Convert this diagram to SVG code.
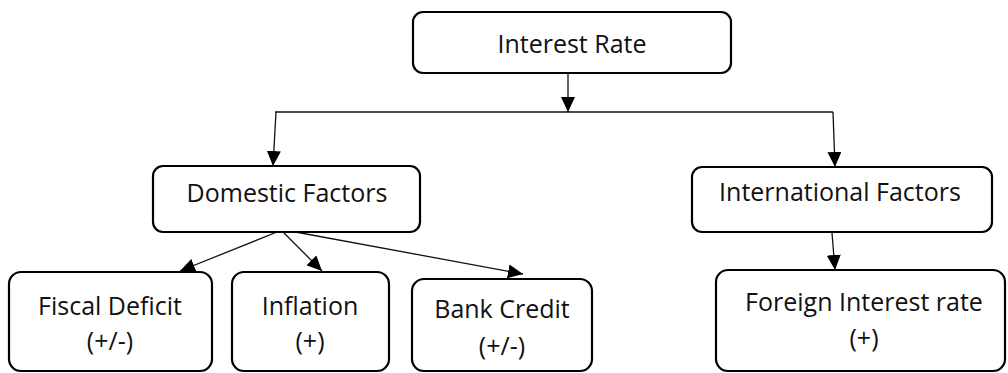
<svg xmlns="http://www.w3.org/2000/svg" width="1008" height="373" viewBox="0 0 1008 373">
<defs>
<style>
.box{fill:#fff;stroke:#000;stroke-width:2.2}
.t{font-family:"Open Sans","Liberation Sans",sans-serif;font-size:25px;fill:#111;text-anchor:middle}
.c{fill:none;stroke:#111;stroke-width:1.3}
</style>
<marker id="ah" markerUnits="userSpaceOnUse" markerWidth="15" markerHeight="14" refX="15" refY="7" orient="auto">
<path d="M0,0 L15,7 L0,14 z" fill="#000"/>
</marker>
</defs>
<rect width="1008" height="373" fill="#fff"/>
<g id="connectors">
<line class="c" x1="568" y1="74" x2="568" y2="112" marker-end="url(#ah)"/>
<line class="c" x1="275" y1="112" x2="833" y2="112"/>
<line class="c" x1="276" y1="112" x2="273" y2="166" marker-end="url(#ah)"/>
<line class="c" x1="833" y1="112" x2="835" y2="167" marker-end="url(#ah)"/>
<line class="c" x1="832" y1="233" x2="835" y2="270" marker-end="url(#ah)"/>
<line class="c" x1="277" y1="232" x2="180" y2="271" marker-end="url(#ah)"/>
<line class="c" x1="283" y1="232" x2="322" y2="271" marker-end="url(#ah)"/>
<line class="c" x1="290" y1="231" x2="523" y2="274" marker-end="url(#ah)"/>
</g>
<g id="interest-rate">
<rect class="box" x="413" y="12" width="318" height="61" rx="10"/>
<text class="t" x="572" y="53">Interest Rate</text>
</g>
<g id="domestic-factors">
<rect class="box" x="153" y="166" width="267" height="66" rx="10"/>
<text class="t" x="287" y="202">Domestic Factors</text>
</g>
<g id="international-factors">
<rect class="box" x="692" y="167" width="300" height="65" rx="10"/>
<text class="t" x="840" y="201">International Factors</text>
</g>
<g id="fiscal-deficit">
<rect class="box" x="9" y="272" width="203" height="99" rx="12"/>
<text class="t" x="110" y="315">Fiscal Deficit</text>
<text class="t" x="110" y="350">(+/-)</text>
</g>
<g id="inflation">
<rect class="box" x="232" y="272" width="157" height="99" rx="12"/>
<text class="t" x="310" y="315">Inflation</text>
<text class="t" x="310" y="350">(+)</text>
</g>
<g id="bank-credit">
<rect class="box" x="412" y="279" width="180" height="92" rx="12"/>
<text class="t" x="502" y="318">Bank Credit</text>
<text class="t" x="502" y="355">(+/-)</text>
</g>
<g id="foreign-interest-rate">
<rect class="box" x="716" y="270" width="289" height="101" rx="12"/>
<text class="t" x="864" y="311">Foreign Interest rate</text>
<text class="t" x="864" y="347">(+)</text>
</g>
</svg>
